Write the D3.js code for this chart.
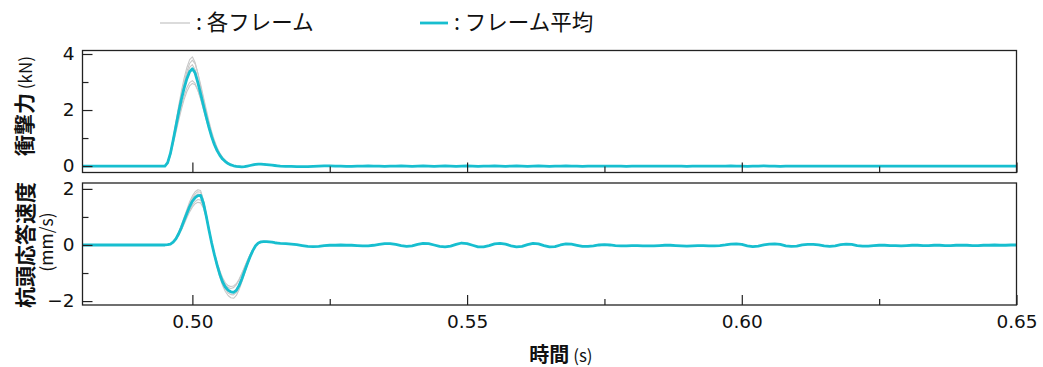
<!DOCTYPE html>
<html>
<head>
<meta charset="utf-8">
<script src="https://cdn.jsdelivr.net/npm/d3@7/dist/d3.min.js"></script>
<style>
  html, body { margin: 0; padding: 0; background: #fff; }
  svg { display: block; }
</style>
</head>
<body>
<svg id="chart" width="1043" height="367"></svg>
<script>
// Sample times (s): coarse before the impact, 0.5 ms through the pulse, 1 ms in the tail
const time = [
  0.480, 0.485, 0.490, 0.492, 0.494,
  0.4945, 0.4950, 0.4955, 0.4960, 0.4965, 0.4970, 0.4975, 0.4980, 0.4985, 0.4990,
  0.4995, 0.5000, 0.5005, 0.5010, 0.5015, 0.5020, 0.5025, 0.5030, 0.5035, 0.5040,
  0.5045, 0.5050, 0.5055, 0.5060, 0.5065, 0.5070, 0.5075, 0.5080, 0.5085, 0.5090,
  0.5095, 0.5100, 0.5105, 0.5110, 0.5115, 0.5120, 0.5125, 0.5130, 0.5135, 0.5140,
  0.5145, 0.5150, 0.5155, 0.5160,
  0.517, 0.518, 0.519, 0.520, 0.521, 0.522, 0.523, 0.524, 0.525, 0.526,
  0.527, 0.528, 0.529, 0.530, 0.531, 0.532, 0.533, 0.534, 0.535, 0.536,
  0.537, 0.538, 0.539, 0.540, 0.541, 0.542, 0.543, 0.544, 0.545, 0.546,
  0.547, 0.548, 0.549, 0.550, 0.551, 0.552, 0.553, 0.554, 0.555, 0.556,
  0.557, 0.558, 0.559, 0.560, 0.561, 0.562, 0.563, 0.564, 0.565, 0.566,
  0.567, 0.568, 0.569, 0.570, 0.571, 0.572, 0.573, 0.574, 0.575, 0.576,
  0.577, 0.578, 0.579, 0.580, 0.581, 0.582, 0.583, 0.584, 0.585, 0.586,
  0.587, 0.588, 0.589, 0.590, 0.591, 0.592, 0.593, 0.594, 0.595, 0.596,
  0.597, 0.598, 0.599, 0.600, 0.601, 0.602, 0.603, 0.604, 0.605, 0.606,
  0.607, 0.608, 0.609, 0.610, 0.611, 0.612, 0.613, 0.614, 0.615, 0.616,
  0.617, 0.618, 0.619, 0.620, 0.621, 0.622, 0.623, 0.624, 0.625, 0.626,
  0.627, 0.628, 0.629, 0.630, 0.631, 0.632, 0.633, 0.634, 0.635, 0.636,
  0.637, 0.638, 0.639, 0.640, 0.641, 0.642, 0.643, 0.644, 0.645, 0.646,
  0.647, 0.648, 0.649, 0.650
];

// Frame-averaged impact force (kN)
const meanForce = [
  0, 0, 0, 0, 0,
  0, 0, 0.12, 0.45, 0.92, 1.42, 1.92, 2.38, 2.78, 3.12,
  3.37, 3.47, 3.32, 2.98, 2.58, 2.17, 1.77, 1.39, 1.05, 0.77,
  0.55, 0.38, 0.25, 0.16, 0.09, 0.04, 0.01, -0.01, -0.02, -0.03,
  -0.02, 0.00, 0.02, 0.04, 0.06, 0.07, 0.07, 0.06, 0.05, 0.04,
  0.03, 0.02, 0.01, 0.00,
  -0.01, -0.01, -0.02, -0.02, -0.02, -0.01, 0.00, 0.01, 0.01, 0.00,
  0.00, -0.01, -0.01, 0.00, 0.00, 0.01, 0.00, 0.00, -0.01, 0.00,
  0.00, 0.01, 0.00, -0.01, 0.00, 0.01, 0.00, -0.01, 0.00, 0.01,
  0.00, -0.01, 0.00, 0.01, 0.00, -0.01, 0.00, 0.00, 0.01, 0.00,
  -0.01, 0.00, 0.01, 0.00, -0.01, 0.00, 0.01, 0.00, -0.01, 0.00,
  0.00, 0.01, 0.00, 0.00, -0.01, 0.00, 0.00, 0.00, 0.00, 0.00,
  0.00, 0.00, -0.01, 0.00, 0.00, 0.00, 0.00, 0.00, 0.00, 0.00,
  0.00, 0.00, 0.00, -0.01, 0.00, 0.00, 0.00, 0.00, 0.00, 0.00,
  0.00, 0.01, 0.00, 0.00, -0.01, 0.00, 0.00, 0.01, 0.00, 0.00,
  -0.01, 0.00, 0.00, 0.00, 0.00, 0.00, 0.00, 0.00, 0.00, 0.00,
  0.00, 0.00, 0.00, 0.00, 0.00, 0.00, 0.00, 0.00, 0.00, 0.00,
  0.00, 0.00, 0.00, 0.00, 0.00, 0.00, 0.00, 0.00, 0.00, 0.00,
  0.00, 0.00, 0.00, 0.00, 0.00, 0.00, 0.00, 0.00, 0.00, 0.00,
  0.00, 0.00, 0.00, 0.00
];

// Frame-averaged pile-head response velocity (mm/s)
const meanVelocity = [
  0, 0, 0, 0, 0,
  0, 0, 0.01, 0.03, 0.10, 0.22, 0.40, 0.62, 0.88, 1.13,
  1.37, 1.56, 1.69, 1.76, 1.77, 1.50, 1.05, 0.55, 0.08, -0.34,
  -0.72, -1.05, -1.32, -1.50, -1.61, -1.67, -1.69, -1.62, -1.45, -1.21,
  -0.94, -0.67, -0.42, -0.20, -0.03, 0.07, 0.11, 0.12, 0.12, 0.11,
  0.10, 0.08, 0.07, 0.06,
  0.05, 0.03, 0.01, -0.02, -0.05, -0.06, -0.05, -0.02, -0.01, -0.01,
  0.00, -0.01, -0.01, -0.02, -0.03, -0.03, -0.01, 0.02, 0.05, 0.05,
  0.02, -0.02, -0.05, -0.03, 0.02, 0.06, 0.05, 0.00, -0.05, -0.07,
  -0.04, 0.02, 0.07, 0.05, -0.01, -0.07, -0.07, -0.02, 0.04, 0.06,
  0.03, -0.03, -0.07, -0.05, 0.01, 0.06, 0.04, -0.02, -0.07, -0.06,
  0.00, 0.04, 0.03, -0.01, -0.05, -0.05, -0.03, 0.00, 0.01, 0.00,
  -0.02, -0.03, -0.03, -0.02, -0.02, -0.03, -0.03, -0.03, -0.02, -0.01,
  -0.01, -0.02, -0.03, -0.04, -0.03, -0.02, -0.02, -0.03, -0.03, -0.02,
  0.00, 0.03, 0.04, 0.02, -0.03, -0.06, -0.04, 0.00, 0.03, 0.04,
  0.02, -0.03, -0.05, -0.04, 0.00, 0.02, 0.02, 0.00, -0.03, -0.05,
  -0.03, 0.01, 0.03, 0.02, -0.02, -0.04, -0.04, -0.02, -0.01, -0.01,
  -0.02, -0.02, -0.03, -0.02, -0.01, -0.01, -0.02, -0.02, -0.01, -0.01,
  -0.02, -0.02, -0.01, -0.01, -0.01, -0.02, -0.02, -0.01, -0.01, 0.00,
  -0.01, -0.01, 0.00, 0.00
];

// Individual frames, recorded through the impact pulse
const pulseTime = [
  0.4945, 0.4950, 0.4955, 0.4960, 0.4965, 0.4970, 0.4975, 0.4980, 0.4985, 0.4990,
  0.4995, 0.5000, 0.5005, 0.5010, 0.5015, 0.5020, 0.5025, 0.5030, 0.5035, 0.5040,
  0.5045, 0.5050, 0.5055, 0.5060, 0.5065, 0.5070, 0.5075, 0.5080, 0.5085, 0.5090,
  0.5095, 0.5100, 0.5105, 0.5110, 0.5115, 0.5120, 0.5125, 0.5130, 0.5135, 0.5140
];

const forceFrame1 = [0, 0, 0.10, 0.46, 1.00, 1.58, 2.15, 2.68, 3.14, 3.52, 3.80, 3.90, 3.70, 3.30, 2.84, 2.38, 1.93, 1.51, 1.13, 0.82, 0.58, 0.39, 0.25, 0.15, 0.08, 0.03, 0.00, -0.02, -0.03, -0.03, -0.02, 0.00, 0.02, 0.05, 0.07, 0.08, 0.07, 0.06, 0.05, 0.04];
const forceFrame2 = [0, 0, 0.08, 0.38, 0.88, 1.44, 2.00, 2.52, 2.98, 3.38, 3.66, 3.78, 3.65, 3.32, 2.92, 2.48, 2.04, 1.62, 1.24, 0.92, 0.66, 0.46, 0.31, 0.20, 0.12, 0.06, 0.02, 0.00, -0.02, -0.03, -0.02, 0.00, 0.02, 0.04, 0.06, 0.07, 0.07, 0.06, 0.05, 0.04];
const forceFrame3 = [0, 0, 0.14, 0.50, 0.98, 1.50, 2.02, 2.50, 2.92, 3.28, 3.52, 3.62, 3.44, 3.06, 2.63, 2.19, 1.77, 1.38, 1.03, 0.75, 0.53, 0.36, 0.23, 0.14, 0.08, 0.03, 0.00, -0.02, -0.03, -0.03, -0.02, 0.00, 0.02, 0.04, 0.06, 0.07, 0.07, 0.06, 0.05, 0.04];
const forceFrame4 = [0, 0, 0.12, 0.44, 0.86, 1.30, 1.74, 2.14, 2.50, 2.80, 2.98, 3.05, 2.95, 2.70, 2.38, 2.02, 1.67, 1.33, 1.02, 0.76, 0.55, 0.39, 0.26, 0.17, 0.10, 0.05, 0.02, 0.00, -0.01, -0.02, -0.01, 0.00, 0.02, 0.04, 0.05, 0.06, 0.06, 0.06, 0.05, 0.04];
const forceFrame5 = [0, 0, 0.10, 0.38, 0.78, 1.20, 1.62, 2.02, 2.38, 2.66, 2.86, 2.95, 2.90, 2.70, 2.42, 2.08, 1.74, 1.40, 1.08, 0.81, 0.59, 0.42, 0.29, 0.19, 0.11, 0.06, 0.02, 0.00, -0.01, -0.02, -0.02, 0.00, 0.02, 0.04, 0.06, 0.07, 0.07, 0.06, 0.05, 0.04];

const velocityFrame1 = [0, 0, 0.01, 0.04, 0.12, 0.26, 0.46, 0.71, 0.99, 1.27, 1.54, 1.75, 1.90, 1.97, 1.94, 1.62, 1.12, 0.58, 0.07, -0.38, -0.79, -1.15, -1.45, -1.66, -1.80, -1.88, -1.90, -1.80, -1.60, -1.32, -1.02, -0.72, -0.45, -0.21, -0.03, 0.08, 0.12, 0.13, 0.12, 0.11];
const velocityFrame2 = [0, 0, 0.01, 0.03, 0.10, 0.23, 0.42, 0.66, 0.93, 1.20, 1.46, 1.67, 1.82, 1.90, 1.88, 1.60, 1.14, 0.62, 0.12, -0.32, -0.72, -1.07, -1.36, -1.57, -1.71, -1.77, -1.78, -1.70, -1.52, -1.28, -1.00, -0.72, -0.46, -0.23, -0.05, 0.06, 0.11, 0.12, 0.12, 0.11];
const velocityFrame3 = [0, 0, 0.01, 0.03, 0.09, 0.21, 0.39, 0.61, 0.87, 1.13, 1.38, 1.59, 1.74, 1.82, 1.80, 1.50, 1.03, 0.52, 0.04, -0.38, -0.76, -1.10, -1.37, -1.55, -1.66, -1.70, -1.68, -1.58, -1.40, -1.16, -0.89, -0.63, -0.39, -0.18, -0.02, 0.08, 0.12, 0.13, 0.12, 0.11];
const velocityFrame4 = [0, 0, 0.01, 0.03, 0.09, 0.20, 0.36, 0.56, 0.79, 1.02, 1.24, 1.42, 1.55, 1.62, 1.60, 1.38, 1.00, 0.54, 0.10, -0.30, -0.66, -0.98, -1.24, -1.42, -1.52, -1.55, -1.52, -1.42, -1.25, -1.03, -0.79, -0.56, -0.35, -0.17, -0.03, 0.06, 0.10, 0.11, 0.11, 0.10];
const velocityFrame5 = [0, 0, 0.01, 0.03, 0.08, 0.19, 0.34, 0.53, 0.75, 0.97, 1.18, 1.35, 1.47, 1.52, 1.50, 1.32, 0.98, 0.56, 0.12, -0.28, -0.62, -0.92, -1.17, -1.35, -1.45, -1.48, -1.46, -1.38, -1.22, -1.01, -0.78, -0.55, -0.34, -0.16, -0.02, 0.07, 0.11, 0.12, 0.11, 0.10];

const forceFrames = [forceFrame1, forceFrame2, forceFrame3, forceFrame4, forceFrame5];
const velocityFrames = [velocityFrame1, velocityFrame2, velocityFrame3, velocityFrame4, velocityFrame5];

// Axis ticks
const xMajorTicks = [0.50, 0.55, 0.60, 0.65];
const xMinorTicks = [0.525, 0.575, 0.625];
const forceMajorTicks = [0, 2, 4];
const forceMinorTicks = [1, 3];
const velocityMajorTicks = [-2, 0, 2];
const velocityMinorTicks = [-1, 1];

const legendLabels = [": 各フレーム", ": フレーム平均"];

// ---------------------------------------------------------------
const FRAME_COLOR = "#c8c8c8";
const MEAN_COLOR = "#17becf";
const AXIS_COLOR = "#222";
const NUM_FONT = "'DejaVu Sans', sans-serif";
const JP_FONT = "'Noto Sans CJK JP', 'Noto Sans', sans-serif";

const svg = d3.select("#chart");
svg.append("rect").attr("width", 1043).attr("height", 367).attr("fill", "#fff");

const left = 82.5, right = 1016.5;
const x = d3.scaleLinear().domain([0.48, 0.65]).range([left, right]);

const panels = [
  {
    id: "force", top: 50.5, bottom: 172.5,
    domain: [-0.23, 4.125],
    mean: meanForce, frames: forceFrames,
    major: forceMajorTicks, minor: forceMinorTicks,
    xLabels: false
  },
  {
    id: "velocity", top: 183, bottom: 305,
    domain: [-2.14, 2.21],
    mean: meanVelocity, frames: velocityFrames,
    major: velocityMajorTicks, minor: velocityMinorTicks,
    xLabels: true
  }
];

const defs = svg.append("defs");

panels.forEach(p => {
  const y = d3.scaleLinear().domain(p.domain).range([p.bottom, p.top]);
  p.y = y;

  defs.append("clipPath").attr("id", "clip-" + p.id)
    .append("rect")
    .attr("x", left).attr("y", p.top)
    .attr("width", right - left).attr("height", p.bottom - p.top);

  const g = svg.append("g");
  const plot = g.append("g").attr("clip-path", `url(#clip-${p.id})`);

  const line = d3.line()
    .x(d => x(d[0]))
    .y(d => y(d[1]));

  // individual frames
  p.frames.forEach(f => {
    plot.append("path")
      .datum(pulseTime.map((t, i) => [t, f[i]]))
      .attr("fill", "none")
      .attr("stroke", FRAME_COLOR)
      .attr("stroke-width", 1.1)
      .attr("stroke-linejoin", "round")
      .attr("d", line);
  });

  // frame average
  plot.append("path")
    .datum(time.map((t, i) => [t, p.mean[i]]))
    .attr("fill", "none")
    .attr("stroke", MEAN_COLOR)
    .attr("stroke-width", 2.8)
    .attr("stroke-linejoin", "round")
    .attr("stroke-linecap", "round")
    .attr("d", line);

  // y axis: major + minor ticks pointing inward
  const yMajor = g.append("g").attr("transform", `translate(${left},0)`)
    .call(d3.axisLeft(y).tickValues(p.major).tickSize(-10).tickPadding(8)
      .tickFormat(d3.format("d")));
  const yMinor = g.append("g").attr("transform", `translate(${left},0)`)
    .call(d3.axisLeft(y).tickValues(p.minor).tickSize(-6).tickFormat(""));

  // x axis on the bottom edge
  const xMajor = g.append("g").attr("transform", `translate(0,${p.bottom})`)
    .call(d3.axisBottom(x).tickValues(xMajorTicks).tickSize(-10).tickPadding(10)
      .tickFormat(p.xLabels ? d3.format(".2f") : () => ""));
  const xMinor = g.append("g").attr("transform", `translate(0,${p.bottom})`)
    .call(d3.axisBottom(x).tickValues(xMinorTicks).tickSize(-6).tickFormat(""));

  [yMajor, yMinor, xMajor, xMinor].forEach(a => {
    a.select(".domain").remove();
    a.selectAll(".tick line").attr("stroke", AXIS_COLOR).attr("stroke-width", 1.2);
    a.selectAll(".tick text")
      .attr("fill", "#111")
      .style("font-family", NUM_FONT)
      .style("font-size", "18.5px");
  });

  // panel frame
  g.append("rect")
    .attr("x", left).attr("y", p.top)
    .attr("width", right - left).attr("height", p.bottom - p.top)
    .attr("fill", "none")
    .attr("stroke", AXIS_COLOR)
    .attr("stroke-width", 1.3);
});

// y axis titles
const forceTitle = svg.append("text")
  .attr("transform", "translate(32,106) rotate(-90)")
  .attr("text-anchor", "middle")
  .attr("fill", "#111")
  .style("font-family", JP_FONT);
forceTitle.append("tspan").style("font-size", "21px").style("font-weight", "700").text("衝撃力");
forceTitle.append("tspan").style("font-size", "17px").text(" (kN)");

svg.append("text")
  .attr("transform", "translate(33,245) rotate(-90)")
  .attr("text-anchor", "middle")
  .attr("fill", "#111")
  .style("font-family", JP_FONT)
  .style("font-size", "21px")
  .style("font-weight", "700")
  .text("杭頭応答速度");
svg.append("text")
  .attr("transform", "translate(53,242) rotate(-90)")
  .attr("text-anchor", "middle")
  .attr("fill", "#111")
  .style("font-family", JP_FONT)
  .style("font-size", "17.5px")
  .text("(mm/s)");

// x axis title
const xTitle = svg.append("text")
  .attr("x", 561)
  .attr("y", 362)
  .attr("text-anchor", "middle")
  .attr("fill", "#111")
  .style("font-family", JP_FONT);
xTitle.append("tspan").style("font-size", "20px").style("font-weight", "700").text("時間");
xTitle.append("tspan").style("font-size", "17px").text(" (s)");

// legend
const legend = svg.append("g");
const legendItems = [
  { x: 160, len: 30, color: FRAME_COLOR, width: 1.3, label: legendLabels[0] },
  { x: 420, len: 28, color: MEAN_COLOR, width: 2.8, label: legendLabels[1] }
];
legendItems.forEach(it => {
  legend.append("line")
    .attr("x1", it.x).attr("x2", it.x + it.len)
    .attr("y1", 23).attr("y2", 23)
    .attr("stroke", it.color).attr("stroke-width", it.width);
  legend.append("text")
    .attr("x", it.x + it.len + 6).attr("y", 30)
    .attr("fill", "#111")
    .style("font-family", JP_FONT)
    .style("font-size", "21.5px")
    .text(it.label);
});
</script>
</body>
</html>
